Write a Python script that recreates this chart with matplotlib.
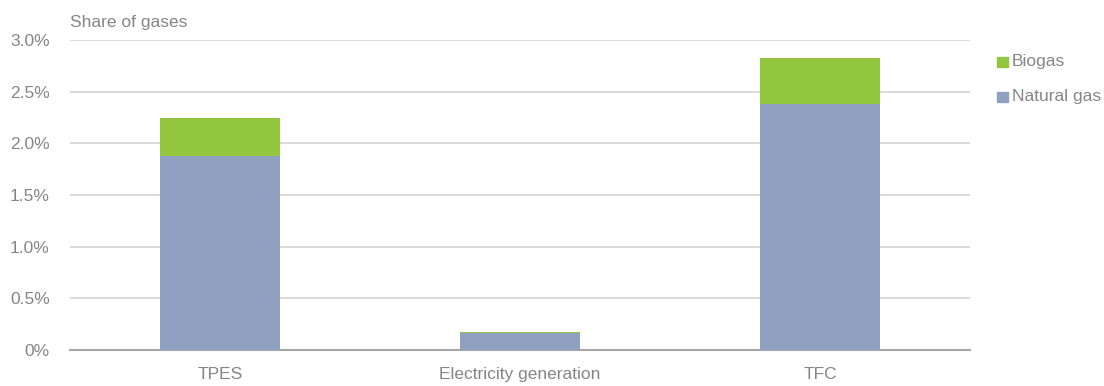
import matplotlib
matplotlib.use("Agg")
import matplotlib.pyplot as plt
from matplotlib.patches import Rectangle
import numpy as np

categories = ["TPES", "Electricity generation", "TFC"]
natural_gas = [1.875, 0.16, 2.385]
biogas = [0.37, 0.012, 0.44]
yticks = [0, 0.5, 1.0, 1.5, 2.0, 2.5, 3.0]
ytick_labels = ["0%", "0.5%", "1.0%", "1.5%", "2.0%", "2.5%", "3.0%"]

plt.rcParams['font.family'] = ['Liberation Sans', 'DejaVu Sans']
txt = "#858585"
green = "#92C63E"
blue = "#8FA0C1"
fs = 12.5

W, H = 1104, 386
fig = plt.figure(figsize=(W / 100, H / 100), dpi=100)
ax = fig.add_axes([70 / W, (H - 350) / H, 900 / W, 310 / H])

x = np.arange(len(categories))
ax.bar(x, natural_gas, width=0.4, color=blue, zorder=3)
ax.bar(x, biogas, bottom=natural_gas, width=0.4, color=green, zorder=3)

ax.set_xlim(-0.5, 2.5)
ax.set_ylim(0, 3.0)
ax.set_yticks(yticks)
ax.set_yticklabels(ytick_labels)
ax.set_xticks(x)
ax.set_xticklabels(categories)
ax.yaxis.grid(True, color="#D4D4D4", linewidth=1.2, zorder=0)
ax.set_axisbelow(True)
for s in ["top", "right", "left"]:
    ax.spines[s].set_visible(False)
ax.spines["bottom"].set_color("#A6A6A6")
ax.spines["bottom"].set_linewidth(1.5)
ax.tick_params(axis="both", length=0, colors=txt, labelsize=fs)
ax.tick_params(axis="y", pad=14.5)
ax.tick_params(axis="x", pad=12)
for lab in ax.get_yticklabels() + ax.get_xticklabels():
    lab.set_color(txt)

fig.text(70 / W, (H - 27) / H, "Share of gases", color=txt, fontsize=fs,
         ha="left", va="baseline")

# legend
for i, (lab, col) in enumerate([("Biogas", green), ("Natural gas", blue)]):
    yc = 61.5 + 35 * i
    fig.patches.append(Rectangle((997 / W, (H - yc - 5) / H), 11 / W, 10 / H,
                                 transform=fig.transFigure, color=col))
    fig.text(1012 / W, (H - yc) / H, lab, color=txt, fontsize=fs,
             ha="left", va="center")

fig.savefig("out.png", dpi=100)
